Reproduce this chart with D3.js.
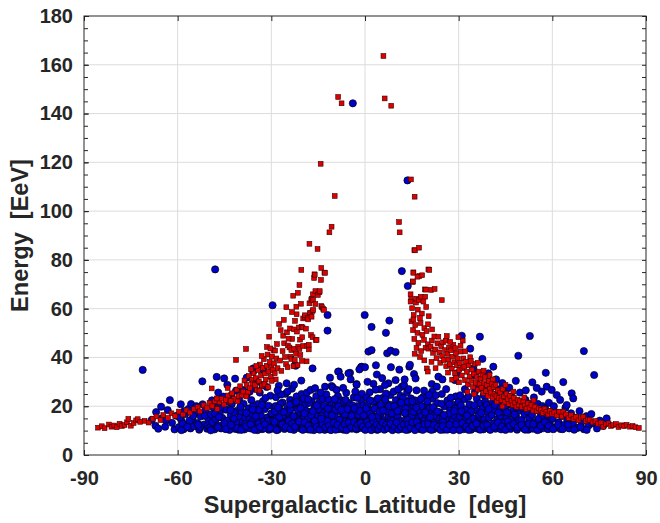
<!DOCTYPE html>
<html lang="en">
  <head>
    <meta charset="utf-8" />
    <title>Energy vs supergalactic latitude</title>
    <script src="https://cdnjs.cloudflare.com/ajax/libs/d3/7.8.5/d3.min.js"></script>
    <style type="text/css">
      body { margin: 0; background: #fff; }
      .tick text {
        font-family: "Liberation Sans", Arial, sans-serif;
        font-weight: bold;
        font-size: 20px;
        fill: #262626;
      }
      .title {
        font-family: "Liberation Sans", Arial, sans-serif;
        font-weight: bold;
        font-size: 23.5px;
        fill: #262626;
        white-space: pre;
      }
      .grid line { stroke: #dcdcdc; stroke-width: 1; }
      .blue { fill: #0000cc; stroke: #000; stroke-width: 0.7; }
      .red { fill: #dd0000; stroke: #3a0000; stroke-width: 0.6; }
    </style>
  </head>

  <body>
    <script>
      // chart dimensions
      const width = 660;
      const height = 523;
      const marginTop = 16;
      const marginRight = 14;
      const marginBottom = 68;
      const marginLeft = 84;

      // tick values
      const xTicks = [-90, -60, -30, 0, 30, 60, 90];
      const yTicks = [0, 20, 40, 60, 80, 100, 120, 140, 160, 180];
      const yMinor = [0, 5, 10, 15, 20, 25, 30, 35, 40, 45, 50, 55, 60, 65, 70, 75, 80, 85, 90,
        95, 100, 105, 110, 115, 120, 125, 130, 135, 140, 145, 150, 155, 160, 165, 170, 175, 180];

      // red squares: [latitude deg, energy EeV]
      const redPts = [
        [-85.5,11.2],[-84.3,11.8],[-83.4,11.0],[-82.0,12.5],[-81.2,11.6],[-80.3,12.1],[-79.5,11.4],[-78.6,12.8],
        [-77.8,11.9],[-77.0,12.3],[-76.2,13.4],[-75.8,14.8],[-75.0,12.0],[-74.1,13.1],[-73.3,14.2],[-72.8,14.7],
        [-72.0,13.6],[-70.6,14.0],
        [-69.3,13.3],[-68.0,14.9],[-66.8,15.8],[-65.5,14.3],[-64.6,16.4],[-63.1,15.2],[-62.0,17.1],[-60.8,16.0],
        [-59.6,17.8],[-58.3,16.6],[-57.2,18.3],[-56.1,17.4],
        [-54.8,18.8],[-53.6,19.6],[-52.9,17.9],[-51.7,20.4],[-50.6,19.2],[-49.8,21.3],[-48.9,20.0],[-48.1,22.0],
        [-47.3,18.9],[-46.6,21.6],[-45.8,23.1],[-45.2,20.7],[-44.5,22.6],[-43.9,24.4],[-43.2,21.8],[-49.1,27.3],[-47.5,23.2],
        [-42.6,25.3],[-42.0,23.0],[-41.3,39.0],[-41.1,26.8],[-40.5,24.1],[-40.0,28.2],[-39.5,24.6],[-39.0,26.0],
        [-38.6,30.5],[-38.1,43.5],[-37.9,28.7],[-37.5,25.7],[-37.2,32.4],[-36.8,27.4],[-36.3,30.8],[-36.0,29.3],
        [-35.7,33.6],[-35.2,28.7],[-35.0,31.5],[-34.6,26.6],[-44.0,27.5],[-43.0,22.2],[-40.8,22.0],[-38.0,24.0],[-36.5,35.2],
        [-34.3,34.8],[-34.0,30.2],[-33.6,37.1],[-33.3,32.6],[-33.0,28.5],[-32.7,35.7],[-32.4,39.3],[-32.0,33.4],
        [-31.8,30.9],[-31.5,36.6],[-31.2,41.2],[-30.9,34.3],[-30.7,48.5],[-30.5,38.2],[-30.2,32.1],[-30.0,36.0],
        [-29.8,40.4],[-29.5,34.8],[-29.3,43.0],[-29.1,37.5],[-28.8,42.8],[-28.6,31.0],[-28.4,39.6],[-28.2,45.5],
        [-28.0,35.6],[-33.8,26.4],[-32.2,29.0],[-31.0,27.8],[-29.9,30.4],[-28.9,33.5],[-34.8,36.5],[-33.1,40.6],
        [-31.4,44.3],[-30.3,43.7],[-27.5,53.7],[-27.0,51.2],[-26.2,48.9],[-26.4,42.6],[-27.2,38.7],[-26.8,34.5],
        [-25.9,45.8],[-25.6,40.2],[-25.3,37.3],[-25.0,50.3],[-24.7,44.9],[-24.2,44.1],[-24.0,51.9],[-23.9,40.3],
        [-23.6,43.0],[-23.6,39.4],[-23.3,47.6],[-23.0,65.3],[-22.9,36.4],[-22.7,51.5],[-22.7,43.6],[-22.4,55.0],
        [-22.1,41.5],[-21.9,57.7],[-21.8,50.6],[-21.5,66.5],[-21.4,44.4],[-21.2,52.3],[-21.0,43.5],[-21.0,69.7],
        [-20.8,47.3],[-20.5,62.0],[-20.4,75.9],[-20.3,52.6],[-20.1,48.3],[-20.0,52.3],[-20.2,38.6],[-24.5,47.7],
        [-26.0,55.4],[-25.2,60.6],[-23.4,58.6],[-22.0,60.8],[-22.5,39.0],[-24.8,36.0],[-21.6,36.8],[-20.7,41.0],
        [-19.8,56.0],[-19.8,44.7],[-19.2,56.7],[-19.2,57.3],[-18.9,51.8],[-18.7,38.4],[-18.5,44.7],[-18.4,56.3],
        [-18.2,55.6],[-18.0,43.3],[-18.0,45.2],[-17.8,62.2],[-17.8,86.6],[-17.6,58.1],[-17.5,58.3],[-17.3,49.2],
        [-17.2,63.6],[-17.1,64.1],[-17.1,56.7],[-16.8,59.0],[-16.8,48.3],[-16.7,65.9],[-16.6,59.5],[-16.6,63.6],
        [-16.3,72.6],[-16.2,74.1],[-16.1,73.9],[-15.9,61.9],[-15.9,67.2],[-15.8,47.2],[-15.5,47.2],[-15.2,84.5],
        [-15.1,65.6],[-14.6,66.7],[-14.5,67.2],[-14.2,119.4],[-14.1,71.8],[-14.0,76.7],[-14.0,61.1],[-13.8,60.6],
        [-13.4,59.9],[-13.1,59.5],[-13.0,74.8],[-12.8,74.7],
        [-11.4,91.3],[-10.7,93.6],[-9.7,106.2],[-8.6,146.8],[-7.5,144.2],
        [5.9,163.6],[6.3,146.2],[8.4,143.2],[10.9,95.5],[11.1,91.3],[14.7,113.0],[15.9,105.9],[15.8,84.0],
        [16.0,83.9],[17.3,85.0],
        [15.5,74.9],[15.5,74.7],[17.4,73.4],[18.3,73.7],[20.3,76.1],[20.6,75.9],[15.3,70.9],[15.3,71.2],
        [16.8,73.1],[19.2,67.9],[19.5,67.8],[21.2,67.7],[22.3,68.1],[14.6,65.9],[14.8,64.1],[14.6,62.9],
        [16.3,62.5],[16.6,64.1],[17.2,63.5],[17.9,64.9],[19.3,64.9],[18.7,62.9],[24.6,63.5],[15.1,60.2],
        [16.9,59.6],[18.2,58.0],[19.6,60.7],[15.6,57.4],[17.6,56.2],[20.4,56.9],
        [14.9,54.8],[16.1,53.3],[17.8,54.1],[19.0,52.0],[20.2,53.6],[15.4,51.2],[16.8,50.1],[18.4,49.3],
        [19.7,50.8],[21.5,51.5],[15.8,47.6],[17.1,46.0],[18.9,47.2],[20.1,45.4],[16.5,43.9],[18.0,42.6],
        [19.4,44.0],[17.6,40.2],[19.0,38.8],[15.9,41.5],[15.5,55.6],[20.3,43.6],[19.8,35.5],[20.1,34.2],
        [21.0,44.4],[21.4,46.9],[21.8,41.9],[22.2,48.6],[22.5,43.3],[22.9,39.7],[23.2,45.8],[23.5,48.5],
        [23.8,42.1],[24.1,37.8],[24.4,44.6],[24.7,40.6],[25.0,46.2],[25.3,38.9],[25.6,43.0],[25.9,46.9],
        [26.2,48.8],[26.0,36.4],[21.3,38.2],[22.6,35.6],
        [26.4,41.5],[26.7,39.2],[26.9,44.1],[27.2,37.1],[27.5,42.9],[27.8,35.4],[28.0,40.3],[28.3,45.2],
        [28.6,38.0],[28.8,33.6],[29.1,41.7],[29.4,36.8],[29.7,39.5],[29.9,48.3],[30.2,34.9],[30.4,37.7],
        [30.7,42.4],[31.0,32.6],[31.3,46.9],[31.5,39.6],[26.6,33.8],[27.9,30.9],[29.2,31.6],[30.1,29.8],
        [31.2,35.6],[27.3,46.4],[28.9,43.8],[30.6,44.8],
        [31.8,36.2],[32.0,30.7],[32.3,38.3],[32.6,34.1],[32.9,28.9],[33.2,36.7],[33.5,32.2],[33.7,40.1],
        [34.0,30.4],[34.3,35.0],[34.6,27.9],[34.9,33.1],[35.2,37.4],[35.5,29.6],[35.8,31.9],[36.1,26.8],
        [36.4,34.2],[36.7,29.0],[32.1,42.5],[33.9,38.6],[35.0,24.9],[36.2,37.8],[32.8,25.9],
        [37.0,31.3],[37.3,27.6],[37.6,33.0],[37.9,25.4],[38.2,29.5],[38.5,31.9],[38.8,26.3],[39.1,28.7],
        [39.4,24.2],[39.7,30.3],[40.0,27.1],[40.3,25.6],[40.6,29.2],[40.9,23.4],[41.2,27.8],[41.5,25.0],
        [41.8,28.8],[42.1,24.1],[38.0,34.6],[39.9,32.8],[41.0,31.0],[42.3,21.9],
        [42.5,26.5],[42.9,23.3],[43.3,25.6],[43.7,22.4],[44.1,27.0],[44.5,24.0],[44.9,21.8],[45.3,25.2],
        [45.7,23.0],[46.1,20.9],[46.5,24.3],[46.9,22.1],[47.3,20.4],[47.7,23.5],[48.1,21.4],[48.5,19.8],
        [48.9,22.7],[49.3,20.6],[49.7,22.1],[45.0,28.7],[47.5,26.0],[44.0,19.9],
        [50.2,19.7],[50.7,21.9],[51.2,20.3],[51.7,18.9],[52.2,21.2],[52.7,19.3],[53.3,20.5],[53.9,18.2],
        [54.5,19.8],[55.1,17.9],[55.7,19.1],[56.3,18.4],[56.9,17.2],[57.5,18.9],[58.1,17.6],[58.7,16.6],
        [59.3,18.1],[59.9,16.9],[51.0,23.6],[54.0,22.4],
        [60.6,17.5],[61.4,16.2],[62.2,17.8],[63.0,15.8],[63.5,17.8],[64.4,16.6],[65.2,15.1],[66.0,16.3],
        [66.8,14.8],[67.6,15.6],[68.4,14.2],[69.2,15.3],[69.9,15.7],[70.7,13.9],[71.5,14.6],[72.0,14.4],
        [72.9,13.4],[73.8,13.9],[74.6,12.8],[75.5,13.3],[76.3,11.6],[77.1,12.6],[78.0,13.0],[78.8,11.9],
        [79.5,12.3],[80.4,12.7],[81.2,11.5],[82.1,12.2],[83.0,11.8],[83.8,12.4],[84.9,11.6],[85.7,11.9],
        [86.6,11.4],[87.7,11.1]
      ];

      // blue circles: [latitude deg, energy EeV]
      const bluePts = [
        // high / isolated events
        [-71.2,34.9],[-48.0,76.1],[-29.6,61.4],[-12.0,57.4],[-12.0,51.0],[-3.9,144.2],[-0.1,57.4],[2.1,52.5],
        [7.8,55.1],[6.7,50.1],[11.8,75.4],[13.7,69.3],[13.6,112.6],[1.1,42.4],[2.1,43.0],[7.1,41.7],
        [8.2,42.8],[9.8,42.2],[52.8,48.8],[70.1,42.6],[73.4,32.8],[-1.3,36.0],[3.5,36.8],[8.3,36.0],
        [14.2,36.2],[-1.1,36.2],[-8.4,34.2],[-4.8,33.7],[-2.7,29.1],[-22.4,36.9],[14.4,37.0],[-35.8,34.2],
        // -70 .. -60
        [-68.3,14.4],[-67.1,12.0],[-66.2,10.8],[-65.1,15.0],[-65.3,19.8],[-64.0,11.6],[-63.2,18.4],[-62.5,22.5],
        [-61.8,13.2],[-61.0,10.5],[-60.4,16.1],[-63.7,14.2],[-66.9,17.6],
        // -60 .. -50
        [-59.6,11.4],[-59.0,20.8],[-58.7,13.9],[-58.1,10.6],[-57.6,16.7],[-57.0,12.3],[-56.5,18.9],[-55.9,10.9],
        [-55.7,20.9],[-55.3,14.6],[-54.8,11.8],[-54.2,17.2],[-53.7,13.1],[-53.1,10.4],[-52.6,15.8],[-52.0,20.8],
        [-52.1,30.2],[-51.6,12.5],[-51.1,18.3],[-50.6,10.8],[-50.2,14.9],[-59.3,15.4],[-57.9,18.0],[-56.2,14.1],
        [-54.0,20.0],[-52.9,11.5],[-51.3,16.1],[-50.4,12.0],[-58.4,12.8],[-55.0,16.0],
        // -50 .. -40
        [-49.7,11.3],[-49.3,16.6],[-48.9,13.4],[-48.6,19.5],[-48.2,10.5],[-47.8,14.7],[-47.5,32.0],[-47.3,21.8],
        [-46.9,12.1],[-46.5,17.3],[-46.1,10.9],[-45.7,15.2],[-45.3,23.9],[-45.1,31.4],[-44.9,11.7],[-44.5,18.6],
        [-44.1,28.8],[-43.8,13.5],[-43.4,10.3],[-43.0,16.4],[-42.7,20.8],[-42.3,12.6],[-41.9,14.9],[-41.6,31.3],
        [-41.5,10.7],[-41.1,18.1],[-40.7,12.8],[-40.3,22.7],[-40.0,15.6],[-49.0,22.4],[-47.0,25.6],[-46.2,19.8],
        [-44.3,14.1],[-42.8,24.5],[-41.3,26.4],[-40.5,10.4],[-48.0,17.0],[-45.0,13.0],[-43.6,21.7],[-42.0,17.5],
        // -40 .. -30
        [-39.8,11.2],[-39.5,17.9],[-39.2,13.6],[-38.9,21.0],[-38.6,10.5],[-38.3,15.3],[-37.9,31.7],[-37.9,24.8],
        [-37.6,12.4],[-37.3,19.1],[-37.0,14.8],[-36.7,10.9],[-36.4,22.5],[-36.1,16.9],[-35.8,12.2],[-35.8,35.5],
        [-35.5,27.3],[-35.2,18.6],[-34.9,11.0],[-34.7,30.1],[-34.6,14.3],[-34.3,20.9],[-34.0,12.9],[-33.7,25.6],
        [-33.3,35.3],[-33.3,16.2],[-33.0,10.6],[-32.7,22.0],[-32.6,35.1],[-32.4,13.7],[-32.1,18.8],[-31.8,11.5],
        [-31.5,27.9],[-31.2,15.4],[-30.9,20.2],[-30.6,12.0],[-30.3,24.3],[-30.0,16.8],[-39.0,26.6],[-38.0,17.2],
        [-36.9,26.0],[-35.9,20.0],[-35.0,15.9],[-33.9,18.5],[-32.9,28.7],[-31.9,23.4],[-30.8,10.4],[-38.4,12.8],
        [-36.3,13.5],[-34.4,10.2],[-32.3,10.9],[-31.0,14.0],
        // -30 .. -20
        [-29.7,10.8],[-29.4,14.2],[-29.1,19.6],[-28.8,12.5],[-28.5,23.7],[-28.2,16.0],[-27.9,10.4],[-27.6,28.4],
        [-27.3,13.3],[-27.0,18.2],[-26.7,11.6],[-26.4,21.5],[-26.1,15.1],[-25.8,10.7],[-25.5,25.1],[-25.1,29.4],
        [-25.2,13.8],[-24.9,19.0],[-24.6,11.9],[-24.3,16.7],[-24.0,22.6],[-23.7,12.7],[-23.4,27.2],[-23.1,14.9],
        [-22.7,28.8],[-22.8,10.3],[-22.5,19.7],[-22.2,36.6],[-22.2,13.0],[-21.9,24.0],[-21.6,16.3],[-21.3,11.1],
        [-21.0,20.8],[-20.7,14.4],[-20.4,30.5],[-20.5,22.1],[-20.2,10.6],[-29.9,17.1],[-28.6,20.1],[-27.5,15.5],
        [-26.2,13.0],[-25.0,17.4],[-23.9,18.6],[-22.9,16.0],[-21.8,12.3],[-20.9,17.5],[-29.2,11.3],[-27.1,21.0],
        [-24.4,14.0],[-23.2,21.1],[-21.5,18.5],[-26.9,24.8],[-28.0,26.5],[-24.8,26.0],[-20.3,25.0],
        // -20 .. -10
        [-19.8,11.7],[-19.5,15.8],[-19.2,20.4],[-18.9,12.9],[-18.6,25.6],[-18.3,10.5],[-18.0,17.7],[-17.7,13.6],
        [-17.4,26.7],[-17.1,22.1],[-16.8,35.5],[-16.8,11.0],[-16.5,15.0],[-16.2,19.3],[-15.9,12.3],[-15.6,24.2],
        [-15.3,16.6],[-15.0,10.7],[-14.7,21.4],[-14.4,13.9],[-14.1,18.1],[-13.8,11.4],[-13.5,23.0],[-13.2,15.6],
        [-12.9,10.3],[-12.8,28.0],[-12.6,19.8],[-12.3,12.7],[-12.0,16.9],[-11.7,22.8],[-11.2,31.7],[-11.4,10.9],
        [-11.1,14.4],[-10.7,28.3],[-10.8,20.3],[-10.5,12.0],[-10.3,27.7],[-10.2,17.3],[-19.0,18.0],[-17.9,21.4],
        [-16.0,27.4],[-14.9,18.8],[-13.9,16.0],[-12.4,24.9],[-11.0,18.9],[-19.6,23.2],[-18.4,14.7],[-17.2,16.3],
        [-16.4,10.2],[-15.2,13.3],[-14.2,25.6],[-13.0,13.0],[-11.8,10.6],[-10.4,14.8],[-17.0,12.0],
        // -10 .. 0
        [-9.9,11.3],[-9.6,15.7],[-9.3,20.6],[-9.1,26.7],[-9.0,13.1],[-8.7,24.1],[-8.6,34.2],[-8.4,10.6],
        [-8.1,17.9],[-7.8,32.1],[-7.8,12.6],[-7.5,22.4],[-7.2,15.2],[-6.9,10.4],[-6.6,19.1],[-6.3,13.8],
        [-6.0,25.5],[-5.7,11.7],[-5.3,33.5],[-5.4,16.6],[-5.1,21.3],[-4.8,12.9],[-4.6,31.0],[-4.5,18.4],
        [-4.2,10.8],[-3.9,14.6],[-3.6,23.6],[-3.3,12.2],[-3.0,17.0],[-2.7,28.8],[-2.7,10.5],[-2.4,20.1],
        [-2.1,13.4],[-1.8,35.1],[-1.8,15.9],[-1.5,11.1],[-1.2,22.7],[-0.9,14.1],[-0.6,18.6],[-0.3,10.9],
        [0.0,36.0],[-9.5,18.4],[-8.2,14.4],[-7.0,27.5],[-6.4,16.7],[-5.0,14.0],[-4.0,20.3],[-3.1,26.0],
        [-2.2,16.5],[-1.0,25.1],[-0.2,13.2],[-6.8,21.9],[-8.9,22.0],[-3.7,11.6],[-0.5,20.4],
        // 0 .. 10
        [0.3,12.1],[0.6,16.2],[0.9,20.8],[1.2,11.0],[1.5,25.7],[1.8,14.5],[2.1,18.3],[2.4,10.6],
        [2.7,29.2],[3.0,13.0],[3.3,22.2],[3.6,15.8],[3.9,10.3],[4.2,19.7],[4.5,12.6],[4.8,27.0],
        [5.1,16.9],[5.4,11.4],[5.7,23.4],[6.0,14.3],[6.3,18.8],[6.6,10.8],[6.9,21.1],[7.2,13.5],
        [7.5,29.4],[7.5,16.0],[7.8,11.7],[8.1,24.6],[8.4,14.8],[8.7,19.5],[9.0,10.5],[9.3,17.2],
        [9.6,12.9],[9.9,22.5],[9.8,30.7],[6.4,28.7],[0.5,23.6],[1.4,17.0],[2.5,21.8],[3.4,26.8],
        [4.0,16.0],[5.0,20.5],[5.9,12.5],[6.7,25.2],[8.0,20.6],[9.2,26.0],[3.8,33.0],[5.5,31.5],
        [0.8,30.0],[2.9,11.8],[7.0,18.0],[8.9,14.0],[4.4,13.7],[1.9,12.8],
        // 10 .. 20
        [10.2,11.1],[10.5,15.4],[10.8,20.9],[11.1,12.6],[11.4,24.3],[11.8,28.0],[11.7,17.8],[12.0,10.7],
        [12.3,14.0],[12.5,28.7],[12.6,21.6],[12.9,11.9],[13.2,16.6],[13.5,25.8],[13.8,10.4],[14.1,19.0],
        [14.4,13.3],[14.7,23.2],[15.0,15.9],[15.3,10.9],[15.6,20.1],[15.7,33.2],[15.9,12.4],[16.2,31.4],
        [16.2,17.4],[16.5,26.5],[16.8,11.5],[17.1,14.8],[17.4,21.9],[17.7,10.6],[18.0,16.4],[18.3,13.1],
        [18.6,23.7],[18.9,26.4],[18.9,18.6],[19.2,11.2],[19.5,15.1],[19.8,20.7],[10.6,26.9],[11.3,18.9],
        [12.2,23.4],[13.0,19.1],[14.0,27.0],[14.9,12.0],[16.0,22.4],[17.0,18.3],[18.1,20.0],[19.0,14.0],
        [19.7,12.3],[10.9,13.8],[13.6,14.4],[15.5,17.7],[17.6,12.8],[12.7,31.0],[11.0,35.0],
        // 20 .. 30
        [20.1,10.8],[20.4,14.6],[20.7,19.2],[21.0,12.2],[21.3,16.8],[21.4,29.1],[21.6,23.1],[21.9,10.5],
        [22.2,14.0],[22.5,18.1],[22.8,11.6],[23.1,21.3],[23.4,15.4],[23.5,32.1],[23.7,10.9],[24.0,17.5],
        [24.3,12.8],[24.6,25.0],[24.9,14.9],[25.2,10.4],[25.5,19.9],[25.8,12.5],[26.1,16.2],[26.4,22.4],
        [26.7,11.2],[27.0,14.5],[27.3,18.8],[27.6,10.6],[27.9,13.8],[28.2,20.6],[28.5,12.0],[28.8,16.0],
        [29.1,24.0],[29.4,10.8],[29.7,14.2],[20.0,22.0],[21.5,26.0],[23.0,28.0],[24.5,21.0],[26.0,27.0],
        [27.5,23.5],[29.0,19.0],[22.0,16.0],[25.0,13.5],[28.0,11.0],[20.9,15.5],[26.9,17.0],[29.9,21.7],
        [22.7,24.5],[24.8,31.0],
        // 30 .. 40
        [30.1,11.4],[30.4,15.8],[30.7,20.4],[31.0,12.7],[31.3,17.3],[31.6,10.6],[31.9,22.9],[32.2,14.1],
        [32.5,18.8],[32.8,11.2],[33.1,23.9],[33.4,13.5],[33.7,43.6],[33.7,16.7],[34.0,10.4],[34.3,20.1],
        [34.7,35.5],[34.6,12.3],[34.9,15.0],[35.2,32.8],[35.2,25.9],[35.5,11.0],[35.8,23.2],[35.8,18.1],
        [36.1,13.9],[36.4,10.7],[36.7,21.2],[37.0,15.5],[37.3,12.1],[37.6,39.4],[37.6,18.9],[37.9,26.9],
        [37.9,10.5],[38.2,14.7],[38.5,22.0],[38.8,12.9],[39.1,17.6],[39.5,33.5],[39.4,10.9],[39.7,15.3],
        [40.0,30.1],[31.0,48.9],[36.8,48.5],[29.4,33.5],[28.8,30.7],[32.0,27.0],[33.5,20.8],[36.0,29.0],
        [38.0,24.5],[30.5,24.5],[34.0,17.8],[36.5,16.5],[39.0,20.5],
        // 40 .. 50
        [40.3,11.6],[40.6,16.4],[40.9,21.6],[41.1,36.2],[41.1,28.0],[41.2,13.0],[41.5,18.7],[41.8,10.8],
        [42.1,24.7],[42.4,14.6],[42.7,11.9],[43.0,19.9],[43.3,16.0],[43.6,10.5],[43.9,22.8],[44.2,13.4],
        [44.5,17.8],[44.8,11.1],[45.1,26.3],[45.4,15.1],[45.7,20.7],[46.0,12.4],[46.3,17.0],[46.6,10.7],
        [46.9,23.9],[47.2,14.0],[47.5,18.9],[47.8,11.6],[48.1,21.3],[48.4,15.8],[48.7,10.4],[49.1,40.7],
        [49.0,13.1],[49.3,18.2],[49.6,25.6],[49.9,11.9],[42.0,31.0],[44.0,29.5],[46.2,27.6],[48.3,30.4],
        [43.2,27.0],[45.8,13.8],[47.9,16.6],[41.6,20.5],[44.9,19.0],
        // 50 .. 60
        [50.2,14.4],[50.5,19.2],[50.8,10.9],[51.1,16.7],[51.4,22.6],[51.7,12.6],[52.0,18.0],[52.3,10.4],
        [52.6,15.0],[52.9,20.9],[53.2,12.0],[53.6,29.8],[53.5,16.4],[53.8,10.8],[54.1,23.6],[54.4,13.5],
        [54.7,18.5],[55.0,11.3],[55.3,21.0],[55.6,14.8],[55.9,10.5],[56.2,17.3],[56.6,26.0],[56.5,12.4],
        [56.8,20.1],[57.1,11.0],[57.4,15.9],[57.9,33.7],[57.7,19.0],[58.0,12.7],[58.2,28.0],[58.3,16.4],
        [58.6,10.6],[58.9,21.4],[59.2,13.6],[59.5,17.7],[59.8,26.7],[59.8,11.5],[51.5,26.5],[55.0,27.5],
        // 60 .. 78
        [60.1,15.0],[60.5,20.0],[61.0,11.2],[61.4,24.6],[61.5,17.2],[62.0,13.4],[62.5,22.6],[62.6,10.7],
        [63.1,16.0],[63.5,29.9],[63.7,12.3],[64.2,19.4],[64.6,20.5],[64.8,14.3],[65.4,10.9],[66.0,17.1],
        [66.2,25.3],[66.7,23.2],[66.6,12.8],[67.3,15.2],[68.0,11.1],[68.7,18.0],[69.4,13.6],[70.1,10.6],
        [70.9,15.9],[71.7,12.2],[72.5,16.8],[73.1,13.0],[74.3,10.9],[75.2,14.1],[76.3,11.9],[77.4,15.0],
        // extra events in the crowded low band
        [-58.8,10.2],[-56.9,11.5],[-53.4,12.4],[-49.4,10.1],[-47.1,11.4],[-44.6,10.6],[-42.9,12.3],[-40.9,11.0],
        [-39.6,10.3],[-38.1,11.8],[-36.6,12.6],[-35.4,10.3],[-33.6,11.4],[-32.0,12.6],[-30.4,11.0],[-29.0,13.6],
        [-28.3,10.2],[-26.5,12.6],[-25.4,11.4],[-23.9,10.6],[-23.3,12.9],[-22.4,11.6],[-21.1,13.7],[-19.9,10.3],
        [-19.3,13.4],[-18.1,12.0],[-17.5,10.4],[-16.1,14.0],[-15.5,11.5],[-14.5,10.4],[-13.6,12.6],[-12.7,11.4],
        [-12.1,13.9],[-11.5,12.1],[-10.9,10.2],[-10.0,13.3],[-9.4,10.4],[-8.8,12.3],[-7.4,11.2],[-6.5,12.7],
        [-5.9,10.2],[-5.2,13.2],[-4.4,11.4],[-3.5,13.5],[-2.9,11.0],[-2.3,12.5],[-1.4,13.1],[-0.7,11.6],
        [0.1,10.3],[0.7,13.6],[1.3,12.3],[2.0,10.2],[2.6,13.9],[3.2,11.3],[3.7,12.3],[4.3,10.6],
        [4.9,11.9],[5.6,13.3],[6.2,10.4],[6.8,12.4],[7.4,11.0],[8.2,12.8],[8.8,10.2],[9.5,11.6],
        [10.1,13.4],[10.7,10.4],[11.5,11.5],[12.4,12.4],[13.1,10.3],[13.9,12.6],[14.6,11.2],[15.2,13.4],
        [16.0,10.2],[16.6,13.6],[17.3,11.7],[18.5,10.3],[19.1,12.6],[20.2,12.7],[21.2,10.3],[22.1,12.4],
        [23.3,11.4],[24.2,10.3],[25.0,11.9],[26.3,10.4],[27.1,12.4],[28.3,10.2],[29.2,12.6],[30.3,10.2],
        [31.2,13.0],[32.4,11.6],[33.2,10.3],[34.4,11.9],[35.7,12.9],[36.9,10.4],[38.0,12.0],[39.2,12.3],
        [40.1,10.3],[41.4,11.6],[42.6,13.4],[43.8,11.7],[45.0,10.3],[46.4,11.9],[47.6,12.6],[48.9,11.4],
        [50.1,12.3],[51.3,10.4],[52.5,12.8],[53.9,12.6],[55.2,10.2],[56.3,12.0],[57.6,13.5],[58.8,12.0],
        [60.3,10.6],[61.8,12.4],[63.3,10.6],[65.0,12.5],[67.0,10.4],[69.0,11.5],[71.0,10.3],
        [-28.9,17.8],[-27.8,19.4],[-26.0,17.6],[-24.1,20.6],[-22.0,21.8],[-20.6,19.2],[-19.4,17.0],[-18.2,22.8],
        [-16.7,18.0],[-15.4,20.4],[-14.0,14.9],[-13.1,20.2],[-11.9,19.0],[-10.6,16.2],[-9.7,22.9],[-8.5,19.9],
        [-7.6,18.5],[-6.2,22.6],[-5.6,18.8],[-4.3,16.1],[-3.4,19.2],[-2.5,23.4],[-1.6,18.0],[-0.4,16.2],
        [0.4,19.0],[1.6,22.4],[2.3,15.6],[3.1,19.0],[4.1,23.2],[4.7,17.8],[5.8,18.2],[6.5,22.8],
        [7.7,20.0],[8.6,17.0],[9.4,20.1],[10.4,18.0],[11.6,21.4],[12.8,17.2],[13.8,21.8],[15.1,22.0],
        [16.4,19.4],[17.9,23.0],[19.3,17.5],[20.5,24.6],[21.8,19.6],[23.2,17.8],[25.3,16.4],[27.0,20.8],
        [28.6,18.0],[30.9,17.9],[32.7,16.2],[35.0,20.4],[37.2,17.2],[39.6,18.8],[42.8,17.4],[45.5,17.6],
        [48.6,19.5],[-33.0,20.5],[-36.0,18.6],[-39.9,19.8],[-43.1,18.4],[-46.8,15.6]
      ];

      const x = d3.scaleLinear().domain([-90, 90]).range([marginLeft, width - marginRight]);
      const y = d3.scaleLinear().domain([0, 180]).range([height - marginBottom, marginTop]);

      const svg = d3.select("body")
        .append("svg")
        .attr("width", width)
        .attr("height", height)
        .attr("viewBox", [0, 0, width, height]);

      // grid
      const grid = svg.append("g").attr("class", "grid");
      grid.selectAll("line.v")
        .data(xTicks.slice(1, -1))
        .join("line")
        .attr("class", "v")
        .attr("x1", d => x(d)).attr("x2", d => x(d))
        .attr("y1", marginTop).attr("y2", height - marginBottom);
      grid.selectAll("line.h")
        .data(yTicks.slice(1, -1))
        .join("line")
        .attr("class", "h")
        .attr("x1", marginLeft).attr("x2", width - marginRight)
        .attr("y1", d => y(d)).attr("y2", d => y(d));

      // blue events
      svg.append("g")
        .selectAll("circle")
        .data(bluePts)
        .join("circle")
        .attr("class", "blue")
        .attr("cx", d => x(d[0]))
        .attr("cy", d => y(d[1]))
        .attr("r", 3.6);

      // red events
      const s = 4.8;
      svg.append("g")
        .selectAll("rect")
        .data(redPts)
        .join("rect")
        .attr("class", "red")
        .attr("x", d => x(d[0]) - s / 2)
        .attr("y", d => y(d[1]) - s / 2)
        .attr("width", s)
        .attr("height", s);

      // axes (ticks inward, mirrored on top/right)
      const axisColor = "#262626";
      const styleAxis = g => {
        g.select(".domain").remove();
        g.selectAll(".tick line").attr("stroke", axisColor);
      };
      const plain = d => String(d);

      svg.append("g")
        .attr("transform", `translate(0,${height - marginBottom})`)
        .call(d3.axisBottom(x).tickValues(xTicks).tickSize(-5).tickPadding(16).tickFormat(plain))
        .call(styleAxis);

      svg.append("g")
        .attr("transform", `translate(0,${marginTop})`)
        .call(d3.axisTop(x).tickValues(xTicks).tickSize(-5).tickFormat(""))
        .call(styleAxis);

      svg.append("g")
        .attr("transform", `translate(${marginLeft},0)`)
        .call(d3.axisLeft(y).tickValues(yMinor).tickSize(-4).tickFormat(""))
        .call(styleAxis);

      svg.append("g")
        .attr("transform", `translate(${marginLeft},0)`)
        .call(d3.axisLeft(y).tickValues(yTicks).tickSize(-5).tickPadding(11).tickFormat(plain))
        .call(styleAxis);

      svg.append("g")
        .attr("transform", `translate(${width - marginRight},0)`)
        .call(d3.axisRight(y).tickValues(yMinor).tickSize(-4).tickFormat(""))
        .call(styleAxis);

      // box
      svg.append("rect")
        .attr("x", marginLeft)
        .attr("y", marginTop)
        .attr("width", width - marginLeft - marginRight)
        .attr("height", height - marginTop - marginBottom)
        .attr("fill", "none")
        .attr("stroke", axisColor)
        .attr("stroke-width", 1);

      // titles
      svg.append("text")
        .attr("class", "title")
        .attr("x", x(0))
        .attr("y", 513)
        .attr("text-anchor", "middle")
        .text("Supergalactic Latitude  [deg]");

      svg.append("text")
        .attr("class", "title")
        .attr("transform", `translate(28,${(marginTop + height - marginBottom) / 2}) rotate(-90)`)
        .attr("text-anchor", "middle")
        .text("Energy  [EeV]");
    </script>
  </body>
</html>
